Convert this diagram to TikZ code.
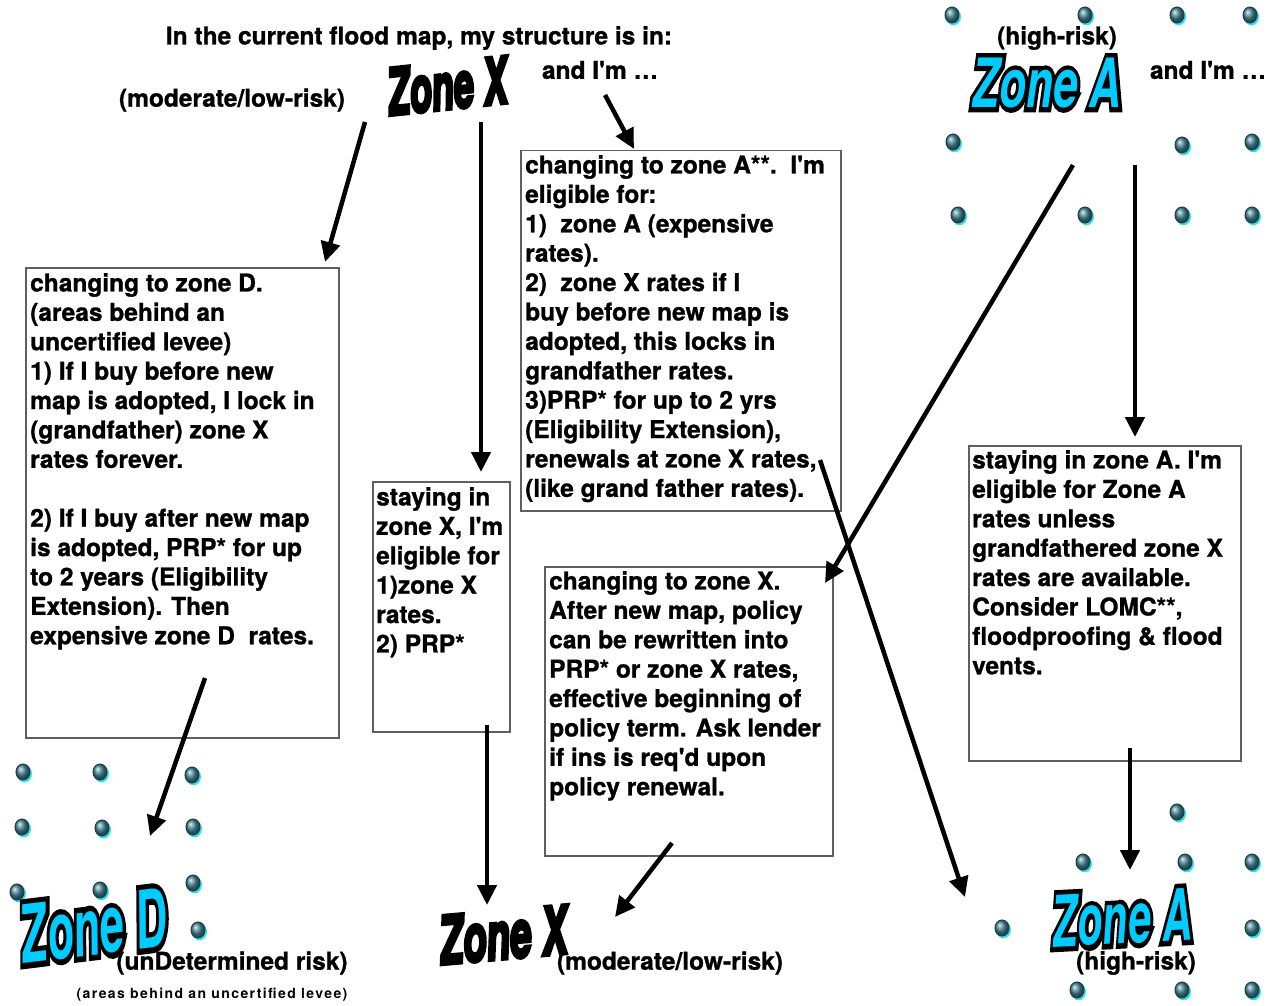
\documentclass[tikz,border=0pt]{standalone}
\usepackage{fontspec}
\usepackage{graphicx}
\setmainfont{texgyreheros}[Extension=.otf, UprightFont=*-regular, BoldFont=*-bold, ItalicFont=*-italic, BoldItalicFont=*-bolditalic]
\newfontfamily\boxfont{texgyreheros-bold}[Extension=.otf, FakeBold=1]
\newfontfamily\zonefont{texgyreheros-bolditalic}[Extension=.otf]
\newfontfamily\zoneheavy{texgyreheros-bolditalic}[Extension=.otf, FakeBold=14]
\newfontfamily\xheavy{texgyreheros-bolditalic}[Extension=.otf, FakeBold=6]
\newfontfamily\smallspaced{texgyreheros-bold}[Extension=.otf, LetterSpace=10]
\usetikzlibrary{arrows.meta}
\definecolor{zcyan}{RGB}{0,204,255}
\definecolor{boxgray}{RGB}{95,95,95}
\definecolor{dropteal}{RGB}{70,135,150}
\definecolor{dropglow}{RGB}{40,230,240}
\tikzset{
  box/.style={draw=boxgray, line width=1.5pt, anchor=north west, inner sep=0pt},
  boxtext/.style={anchor=north west, align=left, inner sep=0pt,
    font=\boxfont\fontsize{24.5}{29.4}\selectfont},
  lbl/.style={font=\boxfont\fontsize{24.5}{29.4}\selectfont, inner sep=0pt},
  arr/.style={line width=4.5pt, -{Triangle[length=20pt,width=19pt]}},
  zoneblack/.style={font=\fontsize{40}{40}\xheavy, text=black, inner sep=0pt},
  zoneback/.style={font=\fontsize{40}{40}\zoneheavy, text=black, inner sep=0pt},
  zonefront/.style={font=\fontsize{40}{40}\zonefont, text=zcyan, inner sep=0pt},
  droplet/.pic={
    \fill[dropglow] (1.5,1.8) ellipse [x radius=7.5, y radius=8.5];
    \shade[ball color=dropteal] (0,0) ellipse [x radius=7, y radius=8];
    \draw[black!55!dropteal, line width=1pt] (0,0) ellipse [x radius=7, y radius=8];
  }
}
\begin{document}
\begin{tikzpicture}[x=1pt,y=-1pt]
\useasboundingbox (0,0) rectangle (1278,1006);
\fill[white] (0,0) rectangle (1278,1006);

% droplets
\foreach \px/\py in {952/15,1085/15,1177/15,1250/15,953/142,1182/145,1252/142,958/215,1085/215,1182/215,1252/215,
  23/772,100/772,192/775,22/827,102/828,193/827,17/892,100/890,193/883,198/930,
  1177/812,1083/862,1185/862,1252/862,1002/928,1252/928,1077/990,1182/990,1252/990}
  \pic at (\px,\py) {droplet};

% top labels
\node[lbl] (title) at (419,38) {In the current flood map, my structure is in:};
\node[lbl] (andX) at (600,70) {and I'm \dots};
\node[lbl] (modtop) at (232,100) {(moderate/low-risk)};
\node[zoneblack, rotate=6] (zXtop) at (447,86) {\scalebox{0.9}[1.6]{Zone X}};

\node[lbl] (hightop) at (1057,38) {(high-risk)};
\node[zoneback] (zAtopb) at (1047,83) {\scalebox{1.1}[1.7]{Zone A}};
\node[zonefront] (zAtop) at (1047,83) {\scalebox{1.1}[1.7]{Zone A}};
\node[lbl] (andA) at (1208,70) {and I'm \dots};

% boxes
\node[box, minimum width=313pt, minimum height=470pt] (bD) at (25,267) {};
\node[boxtext] (tD) at (30,273) {changing to zone D.\\(areas behind an\\uncertified levee)\\1) If I buy before new\\map is adopted, I lock in\\(grandfather) zone X\\rates forever.\\[29.4pt]2) If I buy after new map\\is adopted, PRP* for up\\to 2 years (Eligibility\\Extension). Then\\expensive zone D\ \ rates.};

\node[box, minimum width=137pt, minimum height=250pt] (bSX) at (372,481) {};
\node[boxtext] (tSX) at (376,487) {staying in\\zone X, I'm\\eligible for\\1)zone X\\rates.\\2) PRP*};

\node[box, minimum width=320pt, minimum height=360pt] (bCA) at (520,150) {};
\node[boxtext] (tCA) at (525,155) {changing to zone A**.\ \ I'm\\eligible for:\\1)\ \ zone A (expensive\\rates).\\2)\ \ zone X rates if I\\buy before new map is\\adopted, this locks in\\grandfather rates.\\3)PRP* for up to 2 yrs\\(Eligibility Extension),\\renewals at zone X rates,\\(like grand father rates).};

\node[box, minimum width=288pt, minimum height=289pt] (bCX) at (544,566) {};
\node[boxtext] (tCX) at (549,571) {changing to zone X.\\After new map, policy\\can be rewritten into\\PRP* or zone X rates,\\effective beginning of\\policy term. Ask lender\\if ins is req'd upon\\policy renewal.};

\node[box, minimum width=272pt, minimum height=315pt] (bSA) at (968,445) {};
\node[boxtext] (tSA) at (972,450) {staying in zone A. I'm\\eligible for Zone A\\rates unless\\grandfathered zone X\\rates are available.\\Consider LOMC**,\\floodproofing \& flood\\vents.};

% bottom zones
\node[zoneback, rotate=7] (zDb) at (93,926) {\scalebox{1.08}[2.0]{Zone D}};
\node[zonefront, rotate=7] (zD) at (93,926) {\scalebox{1.08}[2.0]{Zone D}};
\node[lbl] (undet) at (232,963) {(unDetermined risk)};
\node[font=\fontsize{14}{15}\smallspaced, inner sep=0pt] (levee) at (212,995) {(areas behind an uncertified levee)};

\node[zoneblack, rotate=5] (zXbot) at (503,935) {\scalebox{0.96}[1.65]{Zone X}};
\node[lbl] (modbot) at (670,963) {(moderate/low-risk)};

\node[zoneback, rotate=3] (zAbotb) at (1122,918) {\scalebox{1.03}[1.78]{Zone A}};
\node[zonefront, rotate=3] (zAbot) at (1122,918) {\scalebox{1.03}[1.78]{Zone A}};
\node[lbl] (highbot) at (1136,963) {(high-risk)};

% arrow end points
\coordinate (a1s) at (365,122); \coordinate (a1e) at (325,262);
\coordinate (a2s) at (481,122); \coordinate (a2e) at (481,472);
\coordinate (a3s) at (605,95);  \coordinate (a3e) at (634,149);
\coordinate (a4s) at (205,678); \coordinate (a4e) at (150,836);
\coordinate (a5s) at (487,725); \coordinate (a5e) at (487,905);
\coordinate (a6s) at (672,843); \coordinate (a6e) at (615,917);
\coordinate (a7s) at (1073,165); \coordinate (a7e) at (825,583);
\coordinate (a8s) at (1135,165); \coordinate (a8e) at (1135,437);
\coordinate (a9s) at (820,460); \coordinate (a9e) at (965,897);
\coordinate (a10s) at (1130,748); \coordinate (a10e) at (1130,870);

\draw[arr] (a1s) -- (a1e);
\draw[arr] (a2s) -- (a2e);
\draw[arr] (a3s) -- (a3e);
\draw[arr] (a4s) -- (a4e);
\draw[arr] (a5s) -- (a5e);
\draw[arr] (a6s) -- (a6e);
\draw[arr] (a7s) -- (a7e);
\draw[arr] (a8s) -- (a8e);
\draw[arr] (a9s) -- (a9e);
\draw[arr] (a10s) -- (a10e);
\end{tikzpicture}
\end{document}
